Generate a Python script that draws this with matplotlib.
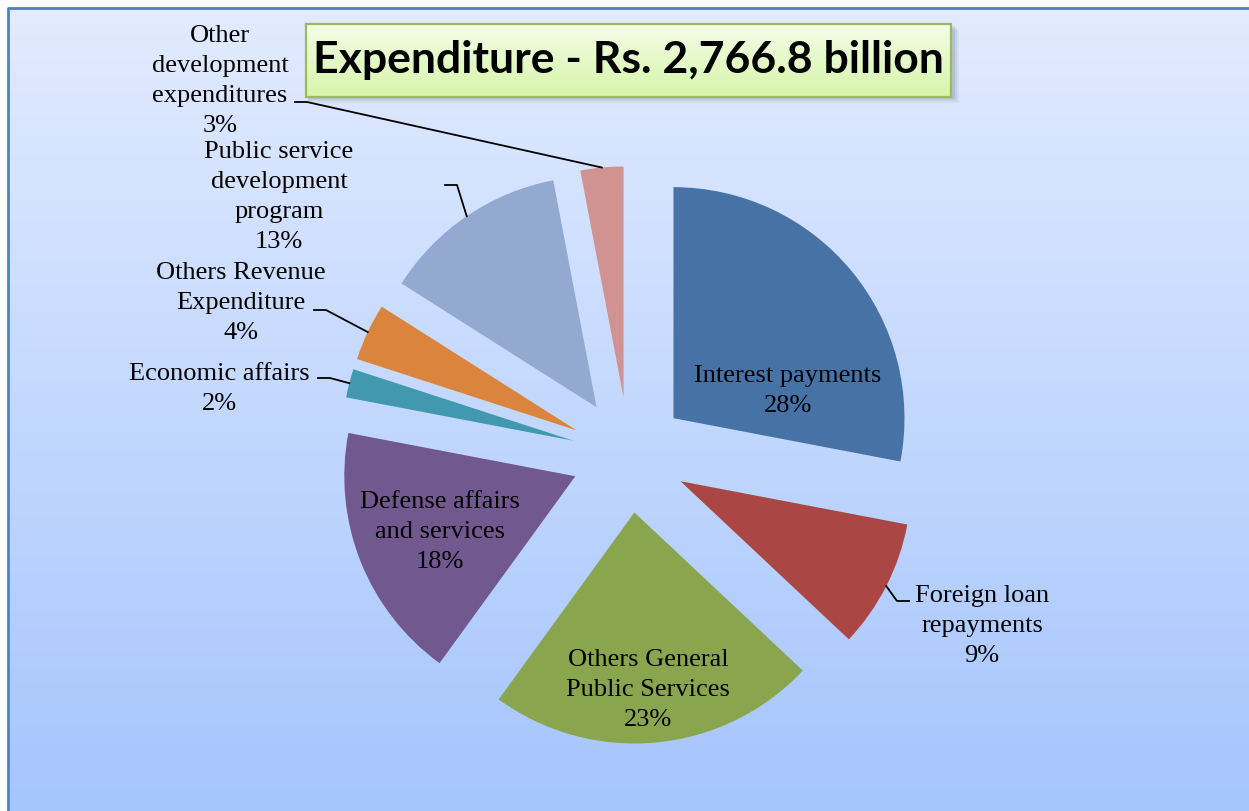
import numpy as np
import matplotlib.pyplot as plt
from matplotlib.patches import Rectangle

# data
categories = ["Interest payments", "Foreign loan\nrepayments", "Others General\nPublic Services",
              "Defense affairs\nand services", "Economic affairs", "Others Revenue\nExpenditure",
              "Public service\ndevelopment\nprogram", "Other\ndevelopment\nexpenditures"]
shares = [28, 9, 23, 18, 2, 4, 13, 3]
title = "Expenditure - Rs. 2,766.8 billion"

colors = ['#4672A5', '#AA4643', '#89A54E', '#71588F', '#4198AF', '#DB843D', '#93A9CF', '#D19392']

# layout (pixel coords, y measured from the top of the image)
W, H = 1249, 811
center = (629, 455)
radius = 231
explode_frac = 0.25
label_pos = [(788, 391), (982, 626), (648, 690), (440, 532),
             (219, 389), (241, 303), (279, 197), (220, 81)]
hooks = [None, (909, 601), None, None, (318, 378), (314, 310), (445, 185), (295, 102)]


def fy(y):
    return H - y


fig = plt.figure(figsize=(W / 100, H / 100), dpi=100)
fig.patch.set_facecolor('#A9C6FD')
ax = fig.add_axes([0, 0, 1, 1])
ax.set_facecolor('white')

# background panel with vertical gradient
g = np.linspace(0, 1, 256)[:, None, None]
top = np.array([226, 235, 255]) / 255
bot = np.array([165, 197, 253]) / 255
ax.imshow(top + (bot - top) * g, extent=(8, W, 0, fy(8)), origin='upper',
          aspect='auto', interpolation='nearest', zorder=0)
ax.plot([8, 8, W], [0, fy(8), fy(8)], color='#4F81BD', lw=2, zorder=1,
        solid_capstyle='butt')

wedges, _ = ax.pie(shares, colors=colors, startangle=90, counterclock=False,
                   radius=radius, center=(center[0], fy(center[1])),
                   explode=[explode_frac * radius] * len(shares),
                   wedgeprops=dict(linewidth=0, zorder=2))

for w, cat, s, (lx, ly), hook in zip(wedges, categories, shares, label_pos, hooks):
    ax.text(lx, fy(ly), f"{cat}\n{s}%", ha='center', va='center', fontsize=19,
            family='Liberation Serif', linespacing=1.47, zorder=5)
    if hook is None:
        continue
    tm = np.deg2rad((w.theta1 + w.theta2) / 2)
    px = w.center[0] + w.r * np.cos(tm)
    py = w.center[1] + w.r * np.sin(tm)
    hx, hy = hook
    step = 12 if px > hx else -12
    ax.plot([hx, hx + step, px], [fy(hy), fy(hy), py], color='black', lw=1.3, zorder=4)

# title box
bx0, by0, bx1, by1 = 306, 24, 951, 97
for k, a in [(6, 0.08), (4, 0.12), (2, 0.15)]:
    ax.add_patch(Rectangle((bx0 + 2, fy(by1) - k), bx1 - bx0 + k, by1 - by0,
                           facecolor='#5a6a80', edgecolor='none', alpha=a, zorder=5))
tg = np.linspace(0, 1, 128)[:, None, None]
ttop = np.array([244, 253, 232]) / 255
tbot = np.array([214, 245, 168]) / 255
ax.imshow(ttop + (tbot - ttop) * tg, extent=(bx0, bx1, fy(by1), fy(by0)), origin='upper',
          aspect='auto', zorder=6)
ax.add_patch(Rectangle((bx0, fy(by1)), bx1 - bx0, by1 - by0, facecolor='none',
                       edgecolor='#9BBB59', lw=1.6, zorder=7))
ax.text((bx0 + bx1) / 2, fy((by0 + by1) / 2), title, ha='center', va='center',
        fontsize=32, fontweight='bold', family='Lato', zorder=8)

ax.set_xlim(0, W)
ax.set_ylim(0, H)
ax.set_aspect('auto')
ax.axis('off')
fig.savefig('out.png', dpi=100, facecolor='white')
